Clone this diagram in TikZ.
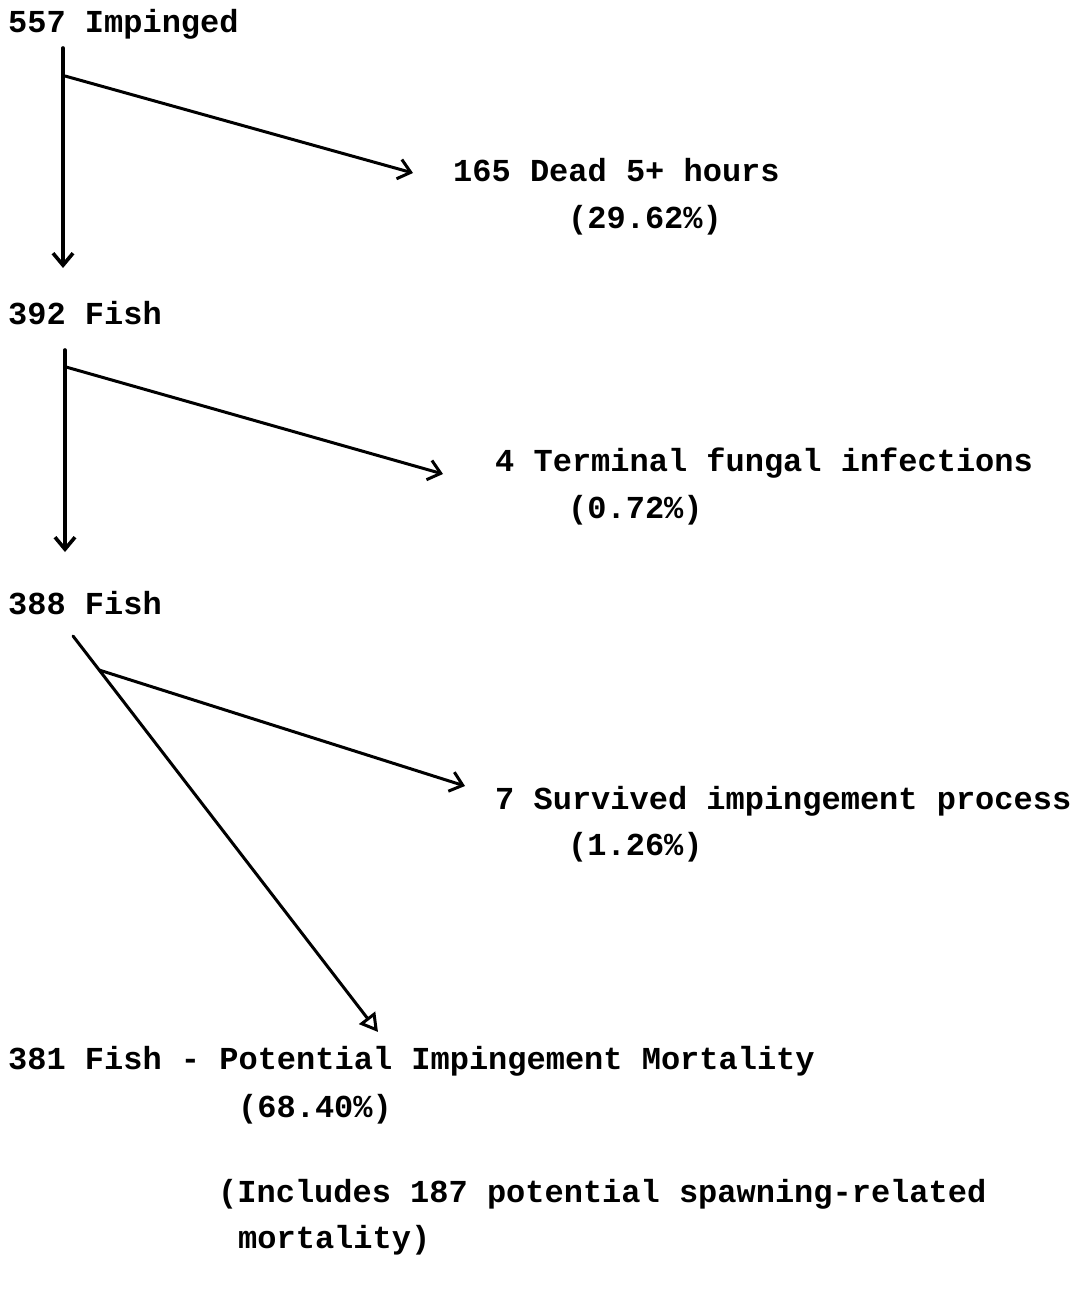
\documentclass[tikz,border=0pt]{standalone}
\usepackage{fontspec}
\setmonofont{Liberation Mono}
\usetikzlibrary{arrows.meta,calc}
\begin{document}
\begin{tikzpicture}[x=1pt,y=-1pt,
  lbl/.style={anchor=base west, inner sep=0pt, font=\ttfamily\bfseries\fontsize{32}{38}\selectfont},
  flow/.style={line width=3pt, line cap=round, -{Straight Barb[length=12pt,width=20pt]}},
  trunk/.style={flow, line width=3.6pt},
  final/.style={line width=3pt, line cap=round, -{Triangle[open,length=18pt,width=20pt]}}
]
% page
\fill[white] (0,0) rectangle (1075,1300);

% labels
\node[lbl] (n557)  at (8,33)    {557 Impinged};
\node[lbl] (dead)  at (453,182) {165 Dead 5+ hours};
\node[lbl] (deadp) at (568,228) {(29.62\%)};
\node[lbl] (n392)  at (8,324)   {392 Fish};
\node[lbl] (fung)  at (495,471) {4 Terminal fungal infections};
\node[lbl] (fungp) at (568,518) {(0.72\%)};
\node[lbl] (n388)  at (8,614)   {388 Fish};
\node[lbl] (surv)  at (495,809) {7 Survived impingement process};
\node[lbl] (survp) at (568,855) {(1.26\%)};
\node[lbl] (n381)  at (8,1069)  {381 Fish - Potential Impingement Mortality};
\node[lbl] (n381p) at (238,1117){(68.40\%)};
\node[lbl] (incl)  at (218,1202){(Includes 187 potential spawning-related};
\node[lbl] (inclb) at (238,1248){mortality)};

% branch points and arrow ends
\coordinate (t1s) at (63,48);
\coordinate (t1e) at (63,268);
\coordinate (b1)  at (65,76);
\coordinate (d1)  at (413,173);

\coordinate (t2s) at (65,350);
\coordinate (t2e) at (65,552);
\coordinate (b2)  at (66,367);
\coordinate (d2)  at (443,474);

\coordinate (t3s) at (73,636);
\coordinate (t3e) at (378,1032);
\coordinate (b3)  at ($(t3s)!0.086!(t3e)$);
\coordinate (d3)  at (465,786);

% connectors
\draw[trunk] (t1s) -- (t1e);
\draw[flow]  (b1) -- (d1);
\draw[trunk] (t2s) -- (t2e);
\draw[flow]  (b2) -- (d2);
\draw[final] (t3s) -- (t3e);
\draw[flow]  (b3) -- (d3);
\end{tikzpicture}
\end{document}
